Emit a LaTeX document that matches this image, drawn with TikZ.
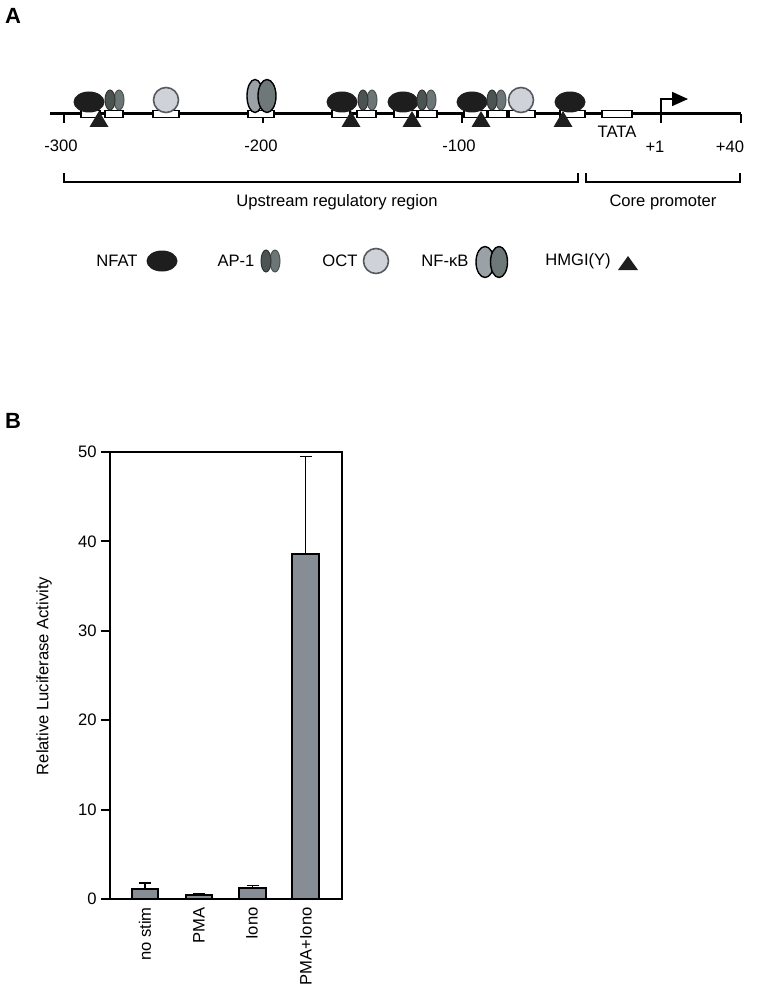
\documentclass[tikz,border=0pt]{standalone}
\usepackage{fontspec}
\setmainfont{Liberation Sans}
\usetikzlibrary{arrows.meta,positioning}
\definecolor{nfatcol}{HTML}{1E1E1E}
\definecolor{apdark}{HTML}{4B5353}
\definecolor{aplight}{HTML}{6D7676}
\definecolor{octcol}{HTML}{CFD3D9}
\definecolor{octline}{HTML}{555A5E}
\definecolor{kbleft}{HTML}{9AA1A7}
\definecolor{kbright}{HTML}{6F7878}
\definecolor{barcol}{HTML}{878D95}
\tikzstyle{lbl}=[font=\fontsize{8.3pt}{10pt}\selectfont, inner sep=0pt]
\tikzstyle{panel}=[font=\fontsize{11pt}{13pt}\selectfont\bfseries, inner sep=0pt]
\tikzstyle{site}=[draw=black, fill=white, line width=0.7pt]
\tikzstyle{nfat}=[fill=nfatcol]
\tikzstyle{apl}=[fill=apdark, draw=black!80, line width=0.5pt]
\tikzstyle{apr}=[fill=aplight, draw=apdark, line width=0.5pt]
\tikzstyle{oct}=[fill=octcol, draw=octline, line width=0.8pt]
\tikzstyle{kbl}=[fill=kbleft, draw=black, line width=0.7pt]
\tikzstyle{kbr}=[fill=kbright, draw=black, line width=0.7pt]
\tikzstyle{hmgi}=[fill=nfatcol]
\tikzstyle{dna}=[line width=1.5pt]
\tikzstyle{brace}=[line width=1pt]
\tikzstyle{axis}=[line width=1pt]
\tikzstyle{bar}=[fill=barcol, draw=black, line width=1pt]
\tikzstyle{err}=[line width=0.8pt]

\begin{document}
\begin{tikzpicture}[x=0.5pt, y=-0.5pt]
    \useasboundingbox (0,0) rectangle (758,995);

    \node[panel] (A) at (13,16) {A};
    \node[panel] (B) at (13,421) {B};

    % promoter line
    \draw[dna] (50,114) -- (741,114);
    \foreach \x in {64,263,462,741}
        \draw[line width=0.8pt] (\x,114) -- (\x,123);
    \draw[line width=0.8pt, -{Triangle[length=8pt, width=7pt]}]
        (661,123) -- (661,99) -- (688,99);

    \foreach \l/\r in {81/100, 105/123, 153/179, 248/274, 332/350, 357/376,
        394/417, 418/437, 464/487, 488/507, 509/535, 560/585, 602/632}
        \draw[site] (\l,110.5) rectangle (\r,117.5);

    \foreach \x in {99,351,412,481,563}
        \fill[hmgi] (\x-9.5,127) -- (\x,111) -- (\x+9.5,127) -- cycle;

    \foreach \x in {89,342,403,472,570}
        \fill[nfat] (\x,102) ellipse [x radius=15.5, y radius=10.5];
    \foreach \x in {110,363,422,492} {
        \draw[apr] (\x+9,100) ellipse [x radius=5, y radius=10];
        \draw[apl] (\x,100) ellipse [x radius=5, y radius=10];
    }
    \foreach \x in {166,521}
        \draw[oct] (\x,100) circle [radius=12.5];
    \draw[kbl] (255,96) ellipse [x radius=8, y radius=16.5];
    \draw[kbr] (267,96) ellipse [x radius=9, y radius=16.5];

    \node[lbl] (tata) at (617,132) {TATA};
    \node[lbl] (p300) at (61,146) {-300};
    \node[lbl] (p200) at (261,146) {-200};
    \node[lbl] (p100) at (459,146) {-100};
    \node[lbl] (p1) at (655,147) {+1};
    \node[lbl] (p40) at (730,147) {+40};

    % regions
    \draw[brace] (64,173) -- (64,183) (64,181.5) -- (578,181.5) (578,173) -- (578,183);
    \draw[brace] (586,173) -- (586,183) (586,181.5) -- (740,181.5) (740,173) -- (740,183);
    \node[lbl] (upstream) at (337,202) {Upstream regulatory region};
    \node[lbl] (core) at (663,202) {Core promoter};

    % legend
    \node[lbl] (lnfat) at (117,261) {NFAT};
    \fill[nfat] (162,261) ellipse [x radius=15.5, y radius=10.5];
    \node[lbl] (lap) at (236,261) {AP-1};
    \draw[apr] (275,261) ellipse [x radius=5, y radius=11];
    \draw[apl] (266,261) ellipse [x radius=5, y radius=11];
    \node[lbl] (loct) at (340,261) {OCT};
    \draw[oct] (376,261) circle [radius=12.5];
    \node[lbl] (lkb) at (445,261) {NF-κB};
    \draw[kbl] (485,262) ellipse [x radius=9, y radius=15.5];
    \draw[kbr] (499,262) ellipse [x radius=8.5, y radius=15.5];
    \node[lbl] (lhmgi) at (578,261) {HMGI(Y)};
    \fill[hmgi] (618,270) -- (628,256) -- (638,270) -- cycle;

    % bar chart
    \draw[axis] (110,452) rectangle (342,899);
    \foreach \v in {0,10,...,50} {
        \draw[axis] (101,{899-8.94*\v}) -- (110,{899-8.94*\v});
        \node[lbl, anchor=east] at (97,{899-8.94*\v}) {\v};
    }
    \foreach \l/\r/\v/\e in {132/158/1.1/1.8, 186/212/0.4/0.6, 239/266/1.2/1.5,
        292/319/38.6/49.5} {
        \draw[err] ({(\l+\r)/2},{899-8.94*\v}) -- ({(\l+\r)/2},{899-8.94*\e});
        \draw[err] ({(\l+\r)/2-6},{899-8.94*\e}) -- ({(\l+\r)/2+6},{899-8.94*\e});
        \draw[bar] (\l,899) rectangle (\r,{899-8.94*\v});
    }
    \node[lbl, rotate=90, anchor=east] (nostim) at (145,907) {no stim};
    \node[lbl, rotate=90, anchor=east] (pma) at (199,907) {PMA};
    \node[lbl, rotate=90, anchor=east] (iono) at (252,907) {Iono};
    \node[lbl, rotate=90, anchor=east] (both) at (306,907) {PMA+Iono};
    \node[lbl, rotate=90] (ylabel) at (44,676) {Relative Luciferase Activity};

\end{tikzpicture}
\end{document}
